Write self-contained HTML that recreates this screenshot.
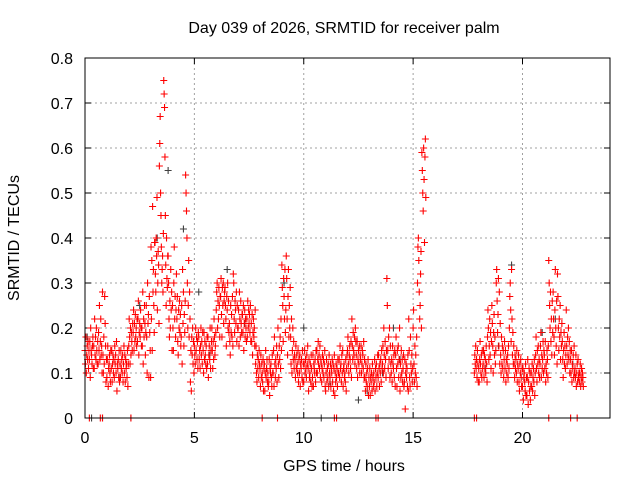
<!DOCTYPE html>
<html><head><meta charset="utf-8"><style>
html,body{margin:0;padding:0;background:#fff;width:640px;height:480px;overflow:hidden}
svg text{font-family:"Liberation Sans",sans-serif;font-size:16px;fill:#000}
</style></head><body>
<svg id="chart" width="640" height="480" viewBox="0 0 640 480" xmlns="http://www.w3.org/2000/svg">
<rect width="640" height="480" fill="#fff"/>
<text x="344" y="33" text-anchor="middle">Day 039 of 2026, SRMTID for receiver palm</text>
<text x="344" y="471" text-anchor="middle">GPS time / hours</text>
<text transform="translate(19,238) rotate(-90)" text-anchor="middle">SRMTID / TECUs</text>
<g id="grid"></g><g id="ticks"></g><g id="marks"></g>
<rect x="85" y="58" width="525" height="360" fill="none" stroke="#000" stroke-width="1"/>
</svg>
<script>
const xTicks=[0,5,10,15,20];
const yTicks=[0,0.1,0.2,0.3,0.4,0.5,0.6,0.7,0.8];
const yTickLabels=["0","0.1","0.2","0.3","0.4","0.5","0.6","0.7","0.8"];
const binTimes=[0,0.2,0.4,0.6,0.8,1.0,1.2,1.4,1.6,1.8,2.0,2.2,2.4,2.6,2.8,3.0,3.2,3.4,3.6,3.8,4.0,4.2,4.4,4.6,4.8,5.0,5.2,5.4,5.6,5.8,6.0,6.2,6.4,6.6,6.8,7.0,7.2,7.4,7.6,7.8,8.0,8.2,8.4,8.6,8.8,9.0,9.2,9.4,9.6,9.8,10.0,10.2,10.4,10.6,10.8,11.0,11.2,11.4,11.6,11.8,12.0,12.2,12.4,12.6,12.8,13.0,13.2,13.4,13.6,13.8,14.0,14.2,14.4,14.6,14.8,15.0,15.2,15.4,17.8,18.0,18.2,18.4,18.6,18.8,19.0,19.2,19.4,19.6,19.8,20.0,20.2,20.4,20.6,20.8,21.0,21.2,21.4,21.6,21.8,22.0,22.2,22.4,22.6];
const binValues=[
[.15,.12,.18,.10,.14,.16,.13,.17,.11,.15],
[.13,.17,.09,.20,.15,.14,.12,.16,.18,.11],
[.16,.11,.22,.14,.18,.13,.20,.15,.12,.17],
[.12,.19,.15,.25,.13,.17,.22,.14,.16,.10],
[.28,.14,.10,.18,.12,.27,.21,.16,.08,.13],
[.09,.13,.16,.07,.11,.12,.14,.10,.08,.15],
[.11,.15,.08,.12,.14,.10,.13,.09,.16,.12],
[.14,.10,.17,.06,.12,.11,.13,.09,.15,.08],
[.12,.09,.15,.11,.13,.10,.14,.08,.12,.16],
[.10,.14,.08,.13,.11,.12,.09,.15,.07,.12],
[.16,.22,.18,.12,.20,.14,.19,.17,.15,.21],
[.19,.24,.15,.21,.17,.23,.18,.20,.16,.22],
[.17,.22,.26,.14,.19,.21,.18,.24,.20,.16],
[.20,.16,.28,.12,.22,.18,.25,.21,.14,.19],
[.25,.18,.10,.30,.21,.23,.09,.27,.19,.15],
[.09,.38,.22,.35,.15,.47,.28,.33,.25,.19,.39],
[.39,.32,.28,.40,.36,.49,.24,.30,.37,.34,.21],
[.56,.61,.67,.50,.45,.38,.30,.33,.36,.28,.41],
[.75,.72,.69,.58,.45,.34,.25,.40,.31,.29,.36],
[.36,.30,.22,.18,.26,.20,.33,.24,.28,.15],
[.25,.20,.15,.30,.38,.22,.27,.18,.24,.32],
[.22,.27,.17,.14,.24,.20,.26,.19,.23,.16],
[.18,.25,.12,.33,.21,.28,.16,.23,.19,.26],
[.54,.50,.46,.40,.30,.20,.25,.35,.18,.28],
[.22,.08,.15,.06,.18,.14,.20,.12,.17,.10],
[.16,.14,.12,.20,.15,.18,.13,.17,.11,.19],
[.18,.13,.15,.11,.16,.20,.14,.17,.12,.19],
[.15,.10,.19,.13,.17,.14,.12,.16,.11,.18],
[.12,.18,.09,.14,.16,.13,.20,.11,.15,.17],
[.20,.15,.11,.17,.13,.22,.18,.14,.16,.19],
[.24,.28,.30,.20,.26,.22,.29,.25,.18,.27],
[.27,.31,.23,.18,.29,.25,.30,.21,.26,.28],
[.29,.25,.22,.16,.27,.24,.30,.20,.26,.19],
[.21,.17,.14,.25,.19,.23,.18,.27,.16,.32],
[.30,.22,.19,.26,.24,.21,.28,.17,.25,.20],
[.20,.24,.16,.28,.22,.18,.26,.21,.19,.23],
[.23,.19,.25,.15,.21,.24,.18,.22,.20,.17],
[.22,.18,.26,.20,.24,.21,.23,.19,.25,.17],
[.21,.17,.23,.14,.19,.22,.18,.20,.16,.24],
[.12,.16,.10,.08,.14,.11,.13,.09,.15,.12],
[.11,.07,.14,.09,.12,.10,.08,.13,.06,.11],
[.12,.06,.10,.15,.09,.11,.13,.08,.10,.07],
[.08,.13,.05,.11,.10,.12,.09,.07,.14,.10],
[.10,.15,.07,.18,.12,.09,.13,.11,.16,.08],
[.14,.20,.12,.09,.16,.13,.18,.11,.22,.15],
[.34,.29,.25,.17,.31,.27,.22,.33,.19,.24],
[.36,.31,.22,.14,.27,.33,.18,.25,.20,.29],
[.18,.12,.22,.10,.15,.20,.13,.17,.11,.14],
[.13,.09,.16,.11,.14,.12,.10,.15,.08,.13],
[.10,.14,.07,.12,.11,.13,.09,.15,.08,.12],
[.08,.12,.15,.10,.13,.11,.09,.14,.12,.16],
[.11,.06,.13,.09,.10,.12,.08,.14,.11,.07],
[.09,.14,.07,.12,.11,.10,.13,.08,.15,.10],
[.15,.10,.13,.17,.12,.14,.11,.16,.09,.13],
[.12,.08,.11,.14,.10,.13,.09,.12,.15,.07],
[.06,.10,.13,.08,.11,.09,.12,.07,.14,.10],
[.09,.12,.07,.11,.10,.13,.08,.12,.06,.11],
[.14,.05,.10,.08,.12,.09,.11,.07,.13,.10],
[.10,.13,.09,.16,.11,.12,.08,.14,.10,.15],
[.07,.11,.12,.09,.10,.08,.13,.06,.11,.14],
[.15,.18,.12,.10,.14,.16,.13,.11,.17,.09],
[.22,.16,.13,.19,.15,.14,.18,.12,.20,.17],
[.14,.11,.17,.09,.13,.15,.12,.16,.10,.14],
[.13,.16,.10,.12,.15,.14,.11,.17,.09,.13],
[.09,.06,.12,.08,.10,.07,.11,.13,.05,.09],
[.07,.11,.05,.09,.08,.10,.06,.12,.09,.07],
[.10,.08,.13,.06,.11,.09,.12,.07,.10,.14],
[.09,.14,.11,.07,.12,.10,.13,.08,.15,.11],
[.12,.16,.10,.20,.14,.11,.17,.13,.09,.15],
[.31,.25,.15,.11,.18,.13,.20,.09,.16,.12],
[.10,.13,.08,.16,.12,.11,.14,.09,.15,.07],
[.14,.18,.11,.07,.15,.12,.16,.09,.13,.20],
[.06,.12,.09,.15,.10,.13,.08,.11,.14,.07],
[.08,.13,.02,.10,.12,.09,.11,.07,.14,.06],
[.22,.15,.09,.07,.18,.12,.10,.14,.08,.11],
[.20,.24,.12,.08,.16,.10,.14,.09,.18,.07],
[.30,.38,.40,.35,.28,.22,.25,.32,.37,.20],
[.59,.55,.50,.46,.60,.53,.39,.58,.62,.49],
[.10,.14,.12,.16,.11,.13,.09,.15,.12,.08],
[.11,.08,.13,.17,.12,.10,.14,.09,.15,.11],
[.12,.15,.09,.14,.11,.13,.10,.16,.12,.08],
[.18,.24,.20,.13,.16,.22,.14,.19,.11,.17],
[.25,.21,.16,.10,.19,.23,.14,.18,.12,.15],
[.30,.33,.26,.19,.23,.31,.16,.28,.12,.21],
[.14,.10,.18,.12,.16,.11,.15,.09,.13,.17],
[.11,.15,.08,.13,.10,.12,.14,.09,.16,.11],
[.20,.27,.30,.24,.17,.33,.22,.14,.19,.12],
[.16,.12,.09,.14,.11,.13,.10,.15,.08,.12],
[.11,.14,.08,.06,.12,.10,.13,.09,.07,.11],
[.07,.11,.04,.09,.10,.08,.06,.12,.05,.09],
[.05,.09,.13,.03,.08,.11,.06,.10,.04,.07],
[.10,.07,.12,.06,.09,.11,.08,.13,.05,.10],
[.14,.18,.11,.08,.15,.12,.16,.10,.13,.09],
[.12,.16,.19,.09,.14,.11,.13,.17,.10,.15],
[.14,.11,.17,.08,.12,.10,.15,.13,.09,.16],
[.35,.30,.25,.20,.28,.17,.22,.14,.26,.19],
[.28,.22,.18,.14,.24,.33,.20,.16,.26,.12],
[.32,.27,.20,.15,.22,.18,.25,.13,.19,.16],
[.21,.17,.13,.09,.15,.19,.12,.16,.11,.14],
[.24,.16,.12,.18,.14,.20,.13,.17,.10,.15],
[.13,.10,.15,.08,.12,.11,.14,.09,.16,.10],
[.11,.09,.14,.07,.10,.12,.08,.13,.09,.10],
[.08,.10,.12,.07,.09,.11,.08,.10,.09,.07]];
const redZeroTimes=[0.2,0.7,0.8,2.1,8.1,8.8,11.4,11.5,13.3,13.4,17.8,17.9,21.2,22.2,22.5];
const grayTimes=[0.1,0.3,0.8,2.1,2.5,3.3,3.8,4.5,5.2,6.5,9.1,10.0,10.8,12.5,14.1,19.5,20.9,21.5,1.1,1.6,5.7,7.3,8.3,11.2,12.9,13.6,14.4,18.3,18.9,22.3];
const grayValues=[0.18,0,0,0,0.25,0.40,0.55,0.42,0.28,0.33,0.30,0.20,0,0.04,0.20,0.34,0.19,0.22,0.12,0.09,0.14,0.21,0.11,0.08,0.06,0.10,0.13,0.11,0.16,0.12];
const X=t=>85+t*(525/24);
const Y=v=>418-v*450;
const NS="http://www.w3.org/2000/svg";
function mk(tag,attrs,parent){const e=document.createElementNS(NS,tag);for(const k in attrs)e.setAttribute(k,attrs[k]);parent.appendChild(e);return e;}
const grid=document.getElementById('grid'),ticks=document.getElementById('ticks'),marks=document.getElementById('marks');
xTicks.forEach(t=>{const x=X(t);
 if(t>0){const g=mk('line',{x1:x,x2:x,y1:58,y2:418,stroke:'#a0a0a0','stroke-dasharray':'2,3'},grid);}
 mk('line',{x1:x,x2:x,y1:418,y2:412,stroke:'#000'},ticks);mk('line',{x1:x,x2:x,y1:58,y2:64,stroke:'#000'},ticks);
 const tx=mk('text',{x:x,y:443,'text-anchor':'middle'},ticks);tx.textContent=String(t);
 });
yTicks.forEach((v,i)=>{const y=Y(v);
 if(i>0&&i<yTicks.length-1){const g=mk('line',{x1:85,x2:610,y1:y,y2:y,stroke:'#a0a0a0','stroke-dasharray':'2,3'},grid);}
 mk('line',{x1:85,x2:91,y1:y,y2:y,stroke:'#000'},ticks);mk('line',{x1:610,x2:604,y1:y,y2:y,stroke:'#000'},ticks);
 const tx=mk('text',{x:73,y:y+6,'text-anchor':'end'},ticks);tx.textContent=yTickLabels[i];
 });
function plus(t,v,color){const x=X(t),y=Y(v);
 return mk('path',{d:`M${x-3.5},${y}H${x+3.5}M${x},${y-3.5}V${y+3.5}`,stroke:color,'stroke-width':1.1,fill:'none'},marks);}
grayTimes.forEach((t,i)=>{const p=plus(t,grayValues[i],'#404040');
 
 });
binTimes.forEach((t,i)=>{const vs=binValues[i];vs.forEach((v,j)=>{const p=plus(t+j*0.2/vs.length,v,'#ff0000');
 
 });});
redZeroTimes.forEach(t=>{const p=plus(t,0,'#ff0000');
 
 });
</script>
</body></html>
